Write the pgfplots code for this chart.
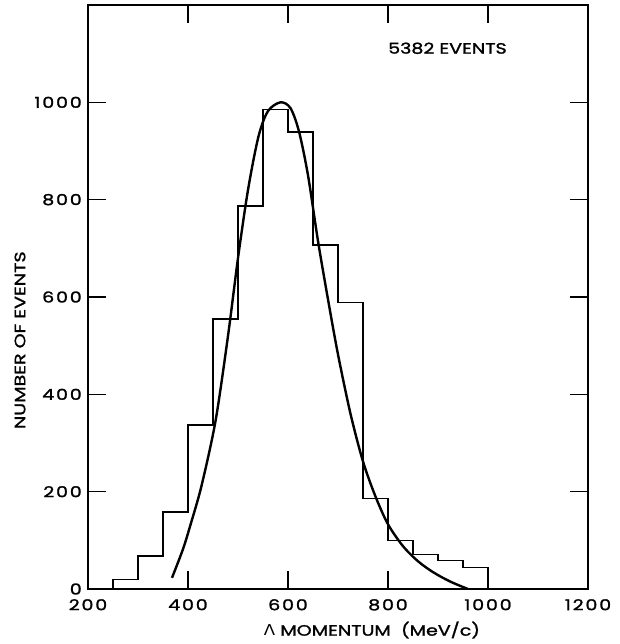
\documentclass[border=0pt]{standalone}
\usepackage{fontspec}
\setmainfont{Poppins}[FakeStretch=1.27, FakeBold=1.5]
\newfontfamily\tickfont{Poppins}[FakeStretch=1.27, FakeBold=1.5, LetterSpace=12]
\newfontfamily\gr{DejaVu Sans}[FakeStretch=1.1]
\usepackage{pgfplots}
\pgfplotsset{compat=1.18}
\begin{document}
\begin{tikzpicture}
\fontsize{15}{18}\selectfont
\begin{axis}[
  at={(0,0)}, anchor=south west,
  scale only axis, width=500pt, height=584pt,
  xmin=200, xmax=1200, ymin=0, ymax=1200,
  xtick={200,400,...,1200}, ytick={0,200,...,1000},
  tick align=inside, tick pos=both,
  major tick length=18pt,
  axis line style={line width=1.3pt},
  every tick/.style={line width=1.2pt, black},
  /pgf/number format/assume math mode=true,
  /pgf/number format/set thousands separator={},
  xticklabel style={anchor=north, inner sep=0pt, yshift=-10pt, font=\tickfont\fontsize{15}{18}\selectfont},
  yticklabel style={anchor=east, inner sep=0pt, xshift=-6pt, font=\tickfont\fontsize{15}{18}\selectfont},
  xlabel={{\gr Λ} MOMENTUM\ \ (MeV/c)},
  ylabel={NUMBER OF EVENTS},
  xlabel style={at={(axis description cs:0.568,0)}, anchor=center, yshift=-41pt, inner sep=0pt, font=\fontsize{15}{18}\selectfont},
  ylabel style={at={(axis description cs:0,0.426)}, anchor=center, yshift=68pt, inner sep=0pt, font=\fontsize{15}{18}\selectfont},
]
\addplot[const plot mark left, line width=1.3pt, black] coordinates {
(250,0) (250,20) (300,68) (350,158) (400,337) (450,555) (500,787) (550,985)
(600,939) (650,707) (700,589) (750,186) (800,99) (850,71) (900,59) (950,44) (1000,0)
};
\addplot[smooth, line width=2.4pt, black] coordinates {
(368,23) (390,82) (405,132) (427,212) (455,345) (480,520) (500,680) (520,820)
(541,930) (560,982) (585,1000) (605,988) (622,940) (640,850) (660,715) (680,595)
(700,482) (725,360) (750,262) (775,190) (800,133) (830,88) (860,57) (891,34) (925,15) (960,0)
};
\node[anchor=base west, inner sep=0pt] at (axis cs:800,1100) {5382 EVENTS};
\end{axis}
\pgfresetboundingbox
\path (-88pt,-55pt) rectangle (531pt,589pt);
\end{tikzpicture}
\end{document}
